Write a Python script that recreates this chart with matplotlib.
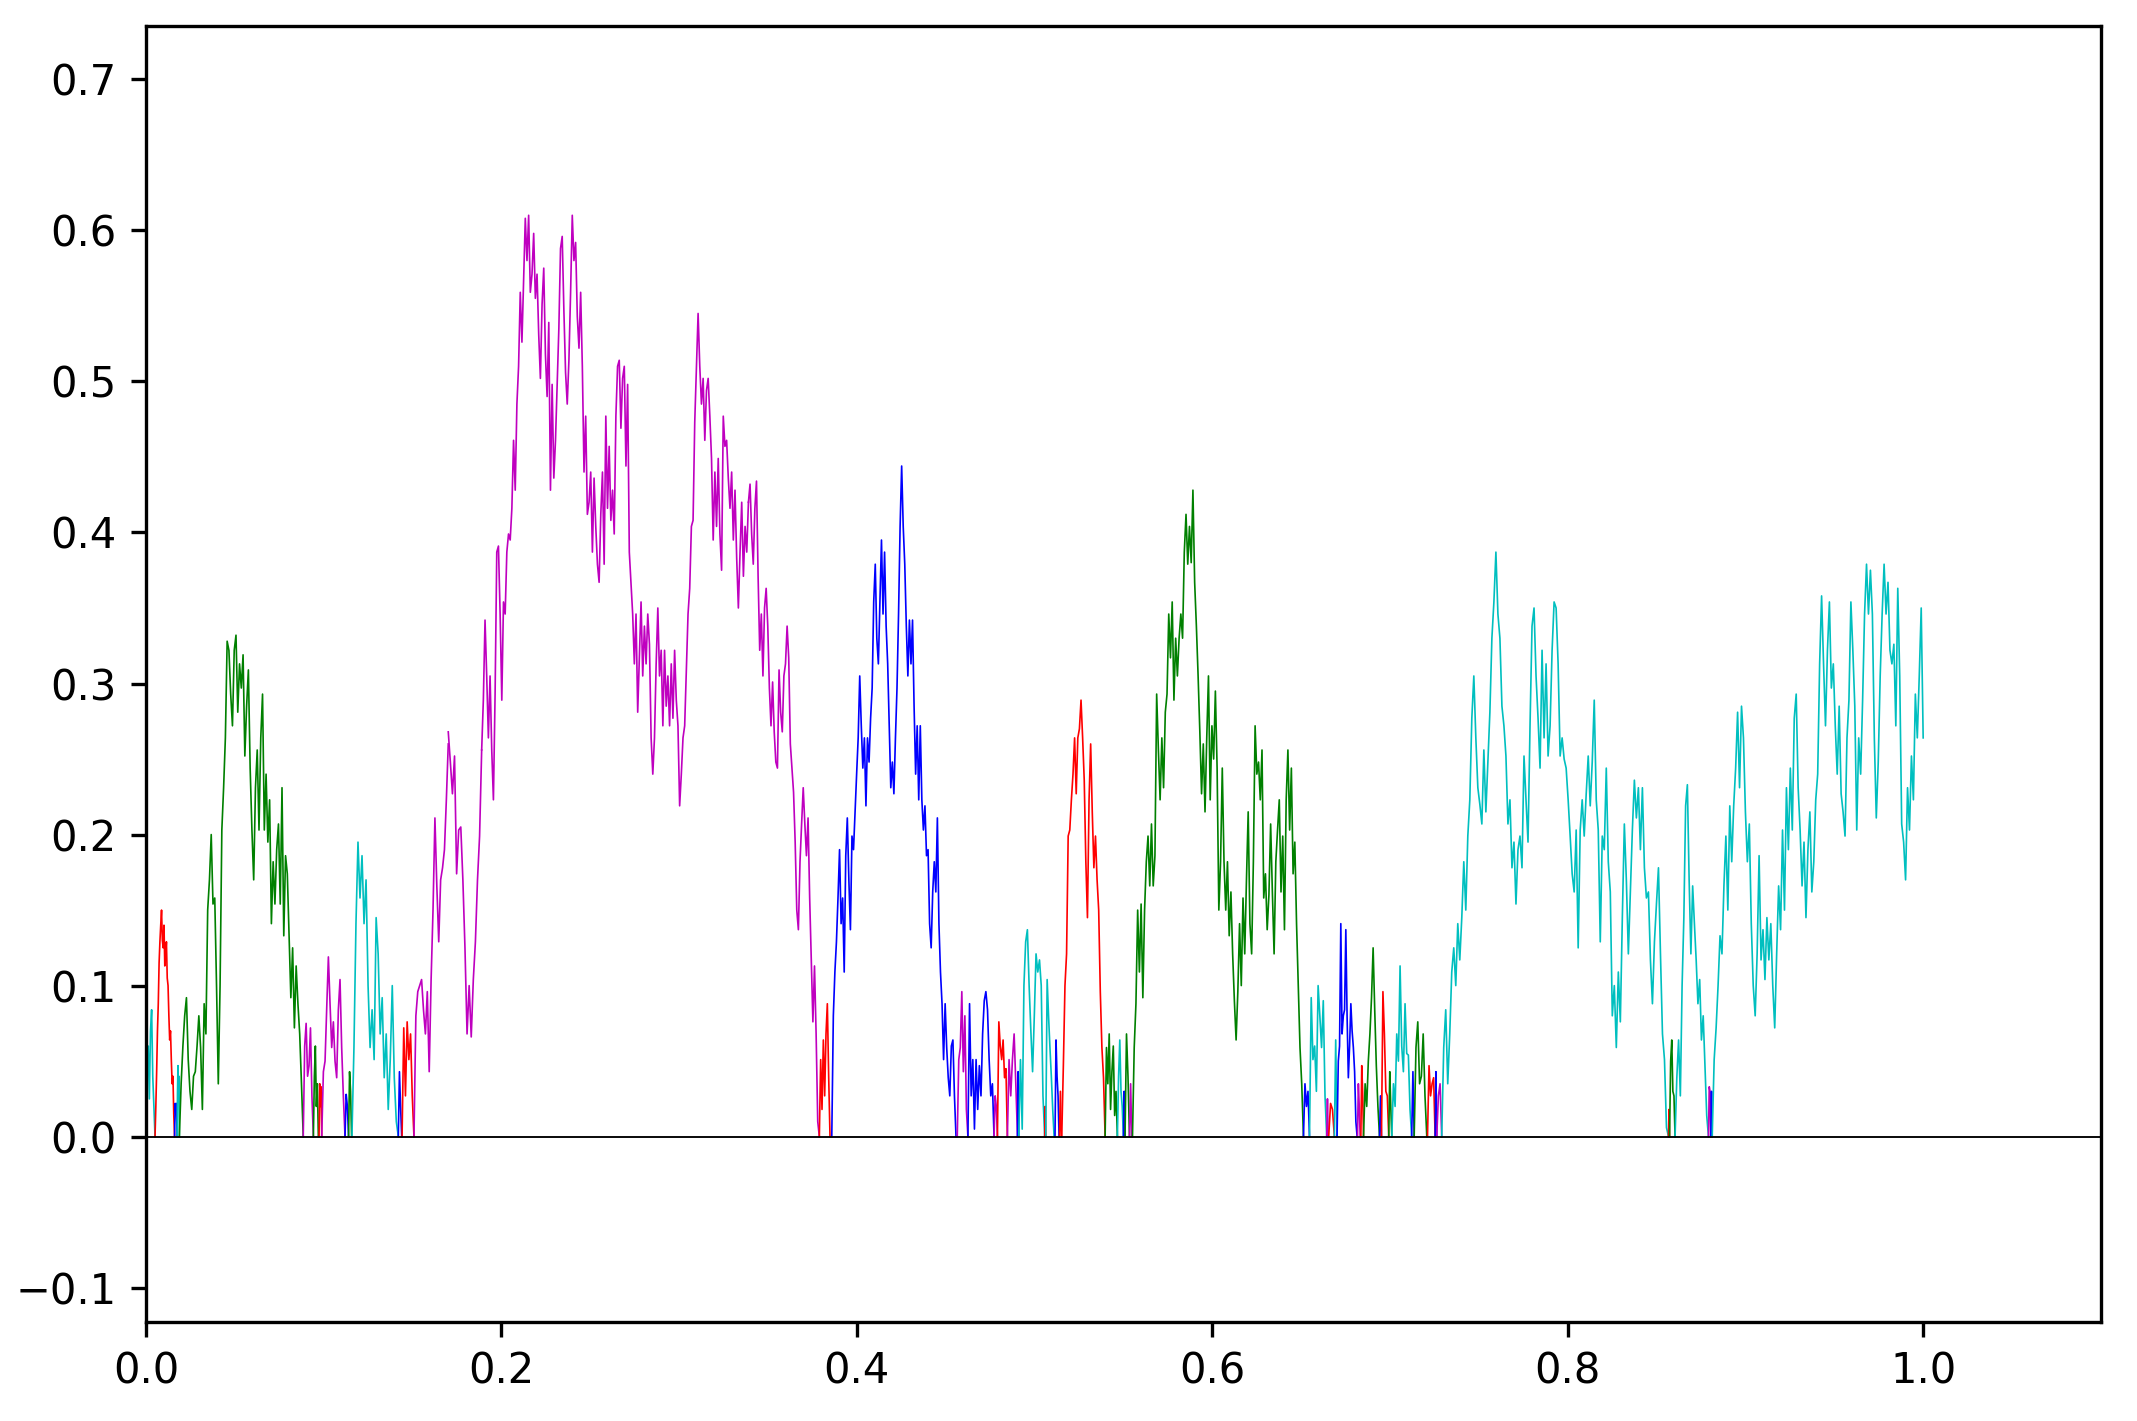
import numpy as np
import matplotlib.pyplot as plt

# Excursions of the reflected path away from zero: colour, start, end, heights
colors = ['c', 'r', 'b', 'c', 'g', 'm', 'g', 'r', 'm', 'b',
          'g', 'c', 'b', 'r', 'm', 'm', 'm', 'm', 'r', 'b',
          'm', 'b', 'm', 'r', 'm', 'b', 'c', 'r', 'c', 'b',
          'r', 'r', 'g', 'c', 'b', 'g', 'm', 'g', 'b', 'c',
          'm', 'r', 'c', 'b', 'm', 'r', 'g', 'b', 'r', 'g',
          'c', 'b', 'g', 'r', 'b', 'm', 'c', 'r', 'g', 'c',
          'm', 'b', 'c']

starts = [0.0, 0.0051, 0.0161, 0.0175, 0.0188, 0.0885, 0.0942, 0.0974, 0.0989, 0.112,
          0.114, 0.1159, 0.142, 0.1441, 0.1508, 0.1701, 0.1889, 0.339, 0.3789, 0.3859,
          0.4565, 0.4625, 0.4772, 0.4791, 0.4847, 0.4904, 0.4911, 0.5057, 0.5063, 0.5115,
          0.514, 0.5153, 0.5397, 0.5466, 0.55, 0.5509, 0.5534, 0.5551, 0.6513, 0.6547,
          0.6644, 0.6655, 0.6687, 0.6702, 0.6817, 0.6836, 0.6851, 0.6941, 0.6952, 0.6993,
          0.701, 0.7122, 0.7136, 0.7211, 0.7254, 0.7263, 0.7291, 0.8567, 0.8573, 0.8604,
          0.8792, 0.8805, 0.8813]

ends = [0.0051, 0.0161, 0.0175, 0.0188, 0.0885, 0.0942, 0.097, 0.0989, 0.112, 0.114,
        0.1157, 0.142, 0.1439, 0.1508, 0.1701, 0.1889, 0.339, 0.3789, 0.3849, 0.4558,
        0.4625, 0.4772, 0.4791, 0.4847, 0.4904, 0.4911, 0.5057, 0.5063, 0.511, 0.5138,
        0.5151, 0.5397, 0.5466, 0.55, 0.5509, 0.5534, 0.5547, 0.6513, 0.6547, 0.6644,
        0.6652, 0.6687, 0.6702, 0.6815, 0.6832, 0.6851, 0.6941, 0.6952, 0.6993, 0.701,
        0.7122, 0.7136, 0.7207, 0.7254, 0.7263, 0.7291, 0.8567, 0.8573, 0.8604, 0.8792,
        0.8805, 0.8813, 1.0]

heights = [
    [0.0, 0.045, 0.06, 0.025, 0.07, 0.084, 0.04, 0.02, 0.0],
    [0, 0.02, 0.043, 0.07, 0.088, 0.115, 0.129, 0.14, 0.15, 0.13, 0.125, 0.14, 0.113,
     0.12, 0.129, 0.105, 0.1, 0.08, 0.064, 0.07, 0.051, 0.035, 0.04, 0.015, 0],
    [0, 0.022, 0.015, 0.022, 0],
    [0, 0.03, 0.047, 0.025, 0.04, 0],
    [0, 0.035, 0.06, 0.08, 0.092, 0.051, 0.03, 0.018, 0.04, 0.043, 0.06, 0.08, 0.059,
     0.018, 0.088, 0.068, 0.15, 0.17, 0.2, 0.154, 0.158, 0.1, 0.035, 0.1, 0.203, 0.231,
     0.264, 0.328, 0.322, 0.293, 0.272, 0.322, 0.332, 0.281, 0.313, 0.297, 0.319, 0.252,
     0.285, 0.309, 0.244, 0.203, 0.17, 0.231, 0.256, 0.203, 0.264, 0.293, 0.203, 0.24,
     0.195, 0.223, 0.141, 0.182, 0.154, 0.19, 0.207, 0.154, 0.231, 0.133, 0.186, 0.174,
     0.133, 0.092, 0.125, 0.072, 0.113, 0.088, 0.068, 0.035, 0],
    [0, 0.06, 0.075, 0.04, 0.047, 0.072, 0.027, 0],
    [0, 0.04, 0.06, 0.02, 0.035, 0],
    [0, 0.035, 0.02, 0.033, 0],
    [0, 0.043, 0.05, 0.085, 0.119, 0.088, 0.059, 0.076, 0.05, 0.039, 0.084, 0.104, 0.059,
     0.027, 0],
    [0, 0.028, 0.02, 0],
    [0, 0.043, 0.03, 0],
    [0, 0.059, 0.141, 0.195, 0.158, 0.186, 0.141, 0.17, 0.1, 0.059, 0.084, 0.051, 0.145,
     0.121, 0.068, 0.092, 0.039, 0.068, 0.018, 0.051, 0.1, 0.039, 0.01, 0],
    [0, 0.043, 0.02, 0],
    [0, 0.072, 0.027, 0.076, 0.051, 0.068, 0.027, 0],
    # long magenta excursion, in four pieces
    [0, 0.08, 0.096, 0.1, 0.104, 0.084, 0.068, 0.096, 0.043, 0.104, 0.15, 0.211, 0.166,
     0.129, 0.17, 0.178, 0.19, 0.223, 0.26],
    [0.268, 0.248, 0.227, 0.252, 0.174, 0.203, 0.205, 0.17, 0.125, 0.068, 0.1, 0.066,
     0.104, 0.129, 0.17, 0.199, 0.256],
    [0.256, 0.289, 0.342, 0.305, 0.264, 0.305, 0.256, 0.223,
     0.293, 0.387, 0.391, 0.346, 0.289, 0.354, 0.346, 0.387, 0.399, 0.395, 0.416, 0.461,
     0.428, 0.485, 0.51, 0.559, 0.526, 0.567, 0.608, 0.58, 0.61, 0.559, 0.571, 0.598,
     0.555, 0.571, 0.531, 0.502, 0.551, 0.575, 0.518, 0.49, 0.539, 0.428, 0.498, 0.436,
     0.461, 0.498, 0.535, 0.588, 0.596, 0.547, 0.506, 0.485, 0.514, 0.559, 0.61, 0.58,
     0.592, 0.543, 0.522, 0.559, 0.51, 0.44, 0.477, 0.412, 0.42, 0.44, 0.387, 0.436,
     0.404, 0.379, 0.367, 0.412, 0.44, 0.379, 0.477, 0.416, 0.457, 0.408, 0.428, 0.399,
     0.477, 0.51, 0.514, 0.469, 0.502, 0.51, 0.444, 0.498, 0.387, 0.367, 0.346, 0.313,
     0.346, 0.281, 0.317, 0.354, 0.305, 0.338, 0.313, 0.346, 0.326, 0.264, 0.24, 0.264,
     0.313, 0.35, 0.305, 0.322, 0.272, 0.322, 0.285, 0.305, 0.272, 0.313, 0.277, 0.322,
     0.289, 0.272, 0.219, 0.24, 0.264, 0.272, 0.309, 0.346, 0.363, 0.404, 0.408, 0.473,
     0.51, 0.545, 0.51, 0.485, 0.502, 0.461, 0.494, 0.502, 0.477, 0.449, 0.395, 0.44,
     0.404, 0.449, 0.399, 0.375, 0.477, 0.457, 0.461, 0.436, 0.416, 0.44, 0.395, 0.428,
     0.383, 0.35, 0.387, 0.42, 0.371, 0.404, 0.387, 0.42],
    [0.42, 0.432, 0.399, 0.379, 0.416, 0.434, 0.371, 0.322, 0.346, 0.305, 0.35, 0.363, 0.338,
     0.297, 0.272, 0.301, 0.268, 0.248, 0.244, 0.309, 0.281, 0.268, 0.305, 0.313, 0.338,
     0.317, 0.26, 0.244, 0.228, 0.195, 0.15, 0.137, 0.182, 0.207, 0.231, 0.207, 0.186,
     0.211, 0.158, 0.117, 0.076, 0.113, 0.068, 0.01, 0],
    [0, 0.051, 0.018, 0.064, 0.027, 0.068, 0.088, 0.04, 0],
    [0, 0.08, 0.109, 0.129, 0.158, 0.19, 0.141, 0.158, 0.109, 0.186, 0.211, 0.17, 0.137,
     0.199, 0.19, 0.215, 0.24, 0.264, 0.305, 0.272, 0.244, 0.264, 0.219, 0.264, 0.248,
     0.277, 0.297, 0.354, 0.379, 0.33, 0.313, 0.354, 0.395, 0.346, 0.387, 0.338, 0.313,
     0.272, 0.231, 0.248, 0.227, 0.264, 0.297, 0.346, 0.404, 0.444, 0.404, 0.379, 0.338,
     0.305, 0.342, 0.313, 0.342, 0.285, 0.24, 0.272, 0.223, 0.272, 0.223, 0.203, 0.219,
     0.186, 0.19, 0.141, 0.125, 0.162, 0.182, 0.162, 0.211, 0.141, 0.109, 0.088, 0.051,
     0.088, 0.059, 0.039, 0.027, 0.06, 0.064, 0.027, 0],
    [0, 0.051, 0.059, 0.096, 0.043, 0.08, 0.018, 0],
    [0, 0.088, 0.027, 0.051, 0.005, 0.051, 0.018, 0.047, 0.027, 0.068, 0.09, 0.096,
     0.084, 0.051, 0.027, 0.035, 0],
    [0, 0.027, 0.02, 0],
    [0, 0.076, 0.06, 0.051, 0.064, 0.039, 0.045, 0],
    [0, 0.051, 0.027, 0.051, 0.068, 0.035, 0],
    [0, 0.043, 0],
    [0, 0.051, 0.005, 0.1, 0.129, 0.137, 0.1, 0.07, 0.043, 0.08, 0.121, 0.109, 0.117,
     0.1, 0.027, 0],
    [0, 0.02, 0],
    [0, 0.104, 0.08, 0.059, 0.04, 0.018, 0],
    [0, 0.064, 0.04, 0.027, 0],
    [0, 0.03, 0],
    [0, 0.047, 0.1, 0.121, 0.199, 0.203, 0.223, 0.24, 0.264, 0.227, 0.264, 0.27, 0.289,
     0.264, 0.236, 0.182, 0.145, 0.223, 0.26, 0.215, 0.178, 0.199, 0.17, 0.15, 0.096,
     0.059, 0.039, 0],
    [0, 0.059, 0.035, 0.068, 0.018, 0.043, 0.06, 0.014, 0.03, 0],
    [0, 0.04, 0.064, 0.03, 0.02, 0],
    [0, 0.03, 0],
    [0, 0.068, 0.04, 0],
    [0, 0.035, 0],
    [0, 0.059, 0.088, 0.15, 0.109, 0.154, 0.092, 0.15, 0.182, 0.199, 0.166, 0.207, 0.166,
     0.186, 0.293, 0.256, 0.223, 0.264, 0.231, 0.281, 0.293, 0.346, 0.317, 0.354, 0.289,
     0.33, 0.305, 0.33, 0.346, 0.33, 0.387, 0.412, 0.379, 0.404, 0.38, 0.428, 0.367,
     0.338, 0.305, 0.268, 0.227, 0.26, 0.215, 0.264, 0.305, 0.223, 0.272, 0.25, 0.295,
     0.244, 0.15, 0.182, 0.244, 0.182, 0.15, 0.182, 0.133, 0.162, 0.121, 0.09, 0.064,
     0.096, 0.141, 0.1, 0.158, 0.121, 0.17, 0.215, 0.141, 0.121, 0.182, 0.272, 0.24,
     0.248, 0.223, 0.256, 0.158, 0.174, 0.137, 0.16, 0.207, 0.162, 0.121, 0.182, 0.203,
     0.223, 0.162, 0.199, 0.137, 0.223, 0.256, 0.203, 0.244, 0.174, 0.195, 0.141, 0.1,
     0.059, 0.035, 0],
    [0, 0.035, 0.02, 0.03, 0],
    [0, 0.092, 0.051, 0.06, 0.03, 0.1, 0.08, 0.059, 0.09, 0.027, 0],
    [0, 0.025, 0],
    [0, 0.022, 0.018, 0],
    [0, 0.064, 0],
    [0, 0.05, 0.06, 0.141, 0.068, 0.08, 0.084, 0.137, 0.08, 0.039, 0.06, 0.088, 0.07,
     0.059, 0.043, 0.01, 0],
    [0, 0.035, 0.02, 0],
    [0, 0.047, 0.03, 0],
    [0, 0.035, 0.02, 0.05, 0.068, 0.092, 0.125, 0.084, 0.047, 0.02, 0],
    [0, 0.027, 0],
    [0, 0.096, 0.068, 0.03, 0.027, 0],
    [0, 0.043, 0.02, 0],
    [0, 0.035, 0.02, 0.068, 0.05, 0.113, 0.06, 0.043, 0.088, 0.055, 0.054, 0.018, 0],
    [0, 0.043, 0],
    [0, 0.059, 0.076, 0.035, 0.04, 0.068, 0.027, 0],
    [0, 0.047, 0.027, 0.035, 0.039, 0],
    [0, 0.043, 0],
    [0, 0.027, 0.035, 0],
    [0, 0.059, 0.084, 0.035, 0.068, 0.109, 0.125, 0.1, 0.141, 0.117, 0.145, 0.182, 0.15,
     0.199, 0.223, 0.277, 0.305, 0.264, 0.231, 0.22, 0.207, 0.256, 0.215, 0.248, 0.281,
     0.33, 0.354, 0.387, 0.346, 0.33, 0.285, 0.272, 0.252, 0.207, 0.223, 0.178, 0.195,
     0.154, 0.19, 0.199, 0.178, 0.252, 0.223, 0.195, 0.272, 0.338, 0.35, 0.305, 0.277,
     0.244, 0.322, 0.264, 0.313, 0.252, 0.272, 0.322, 0.354, 0.35, 0.313, 0.252, 0.264,
     0.25, 0.244, 0.223, 0.199, 0.174, 0.162, 0.203, 0.125, 0.203, 0.223, 0.199, 0.227,
     0.252, 0.219, 0.248, 0.289, 0.223, 0.203, 0.129, 0.199, 0.19, 0.244, 0.182, 0.162,
     0.08, 0.1, 0.059, 0.109, 0.076, 0.145, 0.207, 0.17, 0.121, 0.162, 0.203, 0.236,
     0.211, 0.231, 0.19, 0.231, 0.178, 0.158,
     0.162, 0.117, 0.088, 0.129, 0.154, 0.178, 0.121, 0.068, 0.051, 0.006, 0],
    [0, 0.018, 0],
    [0, 0.05, 0.064, 0.03, 0.027, 0],
    [0, 0.039, 0.064, 0.027, 0.1, 0.145, 0.219, 0.233, 0.17, 0.121, 0.166, 0.141, 0.117,
     0.088, 0.104, 0.064, 0.08, 0.047, 0.014, 0],
    [0, 0.033, 0.03, 0],
    [0, 0.03, 0],
    [0, 0.051, 0.072, 0.1, 0.133, 0.121, 0.166, 0.199, 0.15, 0.219, 0.182, 0.219, 0.244,
     0.281, 0.231, 0.285, 0.264, 0.215, 0.182, 0.207, 0.141, 0.1, 0.08, 0.121, 0.186,
     0.117, 0.137, 0.104, 0.145, 0.117, 0.141, 0.1, 0.072, 0.121, 0.166, 0.137, 0.203,
     0.15, 0.231, 0.19, 0.244, 0.203, 0.277, 0.293, 0.231, 0.203, 0.166, 0.195, 0.145,
     0.19, 0.215, 0.162, 0.182, 0.223, 0.24, 0.313, 0.358, 0.313, 0.272, 0.322, 0.354,
     0.297, 0.313, 0.272, 0.24, 0.285, 0.227, 0.215, 0.199, 0.264, 0.289, 0.354, 0.322,
     0.285, 0.203, 0.264, 0.24, 0.289, 0.346, 0.379, 0.346, 0.375, 0.346, 0.264, 0.211,
     0.248, 0.305, 0.346, 0.379, 0.346, 0.367, 0.322, 0.313, 0.326, 0.272, 0.363, 0.305,
     0.207, 0.195, 0.17, 0.231, 0.203, 0.252, 0.223, 0.293, 0.264, 0.305, 0.35, 0.264],
]

fig = plt.figure(figsize=(2137 / 300, 1421 / 300), dpi=300)
ax = fig.add_axes([0.0683, 0.0699, 0.9148, 0.9118])

for c, x0, x1, h in zip(colors, starts, ends, heights):
    x = np.linspace(x0, x1, len(h))
    ax.plot(x, h, color=c, linewidth=0.4)

ax.axhline(0, color='k', linewidth=0.45)
ax.set_xlim(0, 1.1)
ax.set_ylim(-0.1225, 0.7353)

fig.savefig('out.png', dpi=300)
